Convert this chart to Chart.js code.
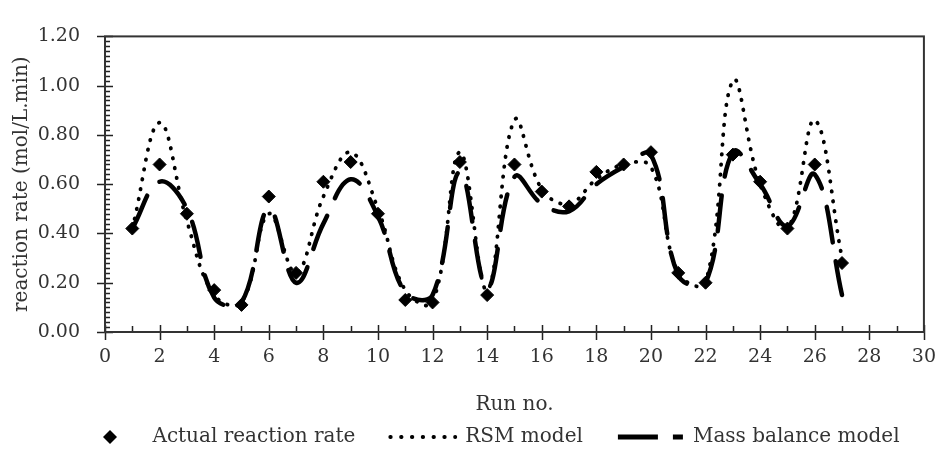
<!DOCTYPE html>
<html>
<head>
<meta charset="utf-8">
<script src="https://cdn.jsdelivr.net/npm/chart.js@4.4.1/dist/chart.umd.min.js"></script>
<style>
  html, body { margin: 0; padding: 0; background: #fff; }
  #c { display: block; }
</style>
</head>
<body>
<canvas id="c" width="950" height="451"></canvas>
<script>
// ---- data ----
const runs   = [1,2,3,4,5,6,7,8,9,10,11,12,13,14,15,16,17,18,19,20,21,22,23,24,25,26,27];
const actual = [0.42,0.68,0.48,0.17,0.11,0.55,0.24,0.61,0.69,0.48,0.13,0.12,0.69,0.15,0.68,0.57,0.51,0.65,0.68,0.73,0.24,0.20,0.72,0.61,0.42,0.68,0.28];
const rsm    = [0.42,0.85,0.45,0.15,0.12,0.48,0.24,0.55,0.73,0.50,0.17,0.12,0.73,0.17,0.86,0.58,0.52,0.62,0.68,0.67,0.24,0.20,1.02,0.60,0.42,0.86,0.30];
const mass   = [0.42,0.61,0.50,0.14,0.12,0.50,0.20,0.44,0.62,0.47,0.16,0.15,0.65,0.18,0.63,0.52,0.49,0.60,0.67,0.72,0.23,0.20,0.73,0.60,0.43,0.64,0.15];
const seriesNames = ['Actual reaction rate', 'RSM model', 'Mass balance model'];
const xTitle = 'Run no.';
const yTitle = 'reaction rate (mol/L.min)';

const toXY = arr => arr.map((v, i) => ({x: runs[i], y: v}));

const TEXT = '#333';
Chart.defaults.font.family = "'DejaVu Serif', serif";
Chart.defaults.color = TEXT;

// small diamond image for the legend marker
const diamond = document.createElement('canvas');
diamond.width = 16; diamond.height = 16;
(function(){
  const g = diamond.getContext('2d');
  g.fillStyle = '#000';
  g.beginPath();
  g.moveTo(8, 1); g.lineTo(15, 8); g.lineTo(8, 15); g.lineTo(1, 8); g.closePath();
  g.fill();
})();

// inside / crossing tick marks and frame
const ticksAndFrame = {
  id: 'ticksAndFrame',
  afterDraw(chart) {
    const {ctx, chartArea: a, scales: {x, y}} = chart;
    ctx.save();
    ctx.strokeStyle = '#222';
    ctx.lineWidth = 1.5;
    ctx.beginPath();
    for (let k = 0; k <= 60; k++) {
      const py = Math.round(y.getPixelForValue(k * 0.02)) + 0.5;
      if (k % 10 === 0) { ctx.moveTo(a.left - 8, py); ctx.lineTo(a.left + 8, py); }
      else { ctx.moveTo(a.left, py); ctx.lineTo(a.left + 5, py); }
    }
    for (let k = 0; k <= 30; k++) {
      const px = Math.round(x.getPixelForValue(k)) + 0.5;
      if (k % 2 === 0) { ctx.moveTo(px, a.bottom - 7); ctx.lineTo(px, a.bottom + 8); }
      else { ctx.moveTo(px, a.bottom - 6); ctx.lineTo(px, a.bottom); }
    }
    ctx.stroke();
    ctx.lineWidth = 2;
    ctx.strokeStyle = '#333';
    ctx.strokeRect(a.left, a.top, a.right - a.left, a.bottom - a.top);
    ctx.restore();
  }
};

// nudge the legend row to the right, as in the reference
const legendShift = {
  id: 'legendShift',
  afterLayout(chart) {
    const l = chart.legend;
    if (l) { l.left += 21; l.right += 21; }
  }
};

new Chart(document.getElementById('c'), {
  type: 'line',
  data: {
    datasets: [
      {
        label: seriesNames[0],
        data: toXY(actual),
        showLine: false,
        pointStyle: 'rectRot',
        pointRadius: 6.5,
        pointBackgroundColor: '#000',
        pointBorderColor: '#000',
        pointBorderWidth: 1
      },
      {
        label: seriesNames[1],
        data: toXY(rsm),
        borderColor: '#000',
        borderWidth: 3.8,
        borderDash: [0.5, 9.5],
        borderCapStyle: 'round',
        tension: 0.4,
        pointRadius: 0,
        fill: false
      },
      {
        label: seriesNames[2],
        data: toXY(mass),
        borderColor: '#000',
        borderWidth: 4.5,
        borderDash: [36, 19],
        borderCapStyle: 'round',
        tension: 0.4,
        pointRadius: 0,
        fill: false
      }
    ]
  },
  options: {
    responsive: false,
    animation: false,
    devicePixelRatio: 1,
    layout: { padding: { left: 0, right: 15, top: 20, bottom: -6 } },
    plugins: {
      tooltip: { enabled: false },
      legend: {
        position: 'bottom',
        labels: {
          usePointStyle: true,
          pointStyleWidth: 65,
          padding: 35,
          color: TEXT,
          font: { size: 20 },
          generateLabels() {
            return [
              { text: seriesNames[0], pointStyle: diamond, fillStyle: '#000', strokeStyle: '#000', lineWidth: 0, hidden: false, datasetIndex: 0, fontColor: TEXT },
              { text: seriesNames[1], pointStyle: 'line', fillStyle: '#000', strokeStyle: '#000', lineWidth: 3.8, lineDash: [0.5, 10.3], lineCap: 'round', hidden: false, datasetIndex: 1, fontColor: TEXT },
              { text: seriesNames[2], pointStyle: 'line', fillStyle: '#000', strokeStyle: '#000', lineWidth: 5, lineDash: [40, 15], lineCap: 'butt', hidden: false, datasetIndex: 2, fontColor: TEXT }
            ];
          }
        }
      }
    },
    scales: {
      x: {
        type: 'linear',
        min: 0, max: 30,
        grid: { display: false, drawTicks: false },
        border: { display: false },
        ticks: { stepSize: 2, padding: 14, font: { size: 19 }, color: TEXT, maxRotation: 0 },
        title: { display: true, text: xTitle, font: { size: 20 }, color: TEXT, padding: { top: 0, bottom: -25 } },
        afterFit(s) { s.height = 60; }
      },
      y: {
        min: 0, max: 1.2,
        grid: { display: false, drawTicks: false },
        border: { display: false },
        ticks: { stepSize: 0.2, padding: 25, font: { size: 19 }, color: TEXT, callback: v => v.toFixed(2) },
        title: { display: true, text: yTitle, font: { size: 20 }, color: TEXT, padding: { top: 10, bottom: 0 } },
        afterFit(s) { s.width = 105; }
      }
    }
  },
  plugins: [ticksAndFrame, legendShift]
});
</script>
</body>
</html>
